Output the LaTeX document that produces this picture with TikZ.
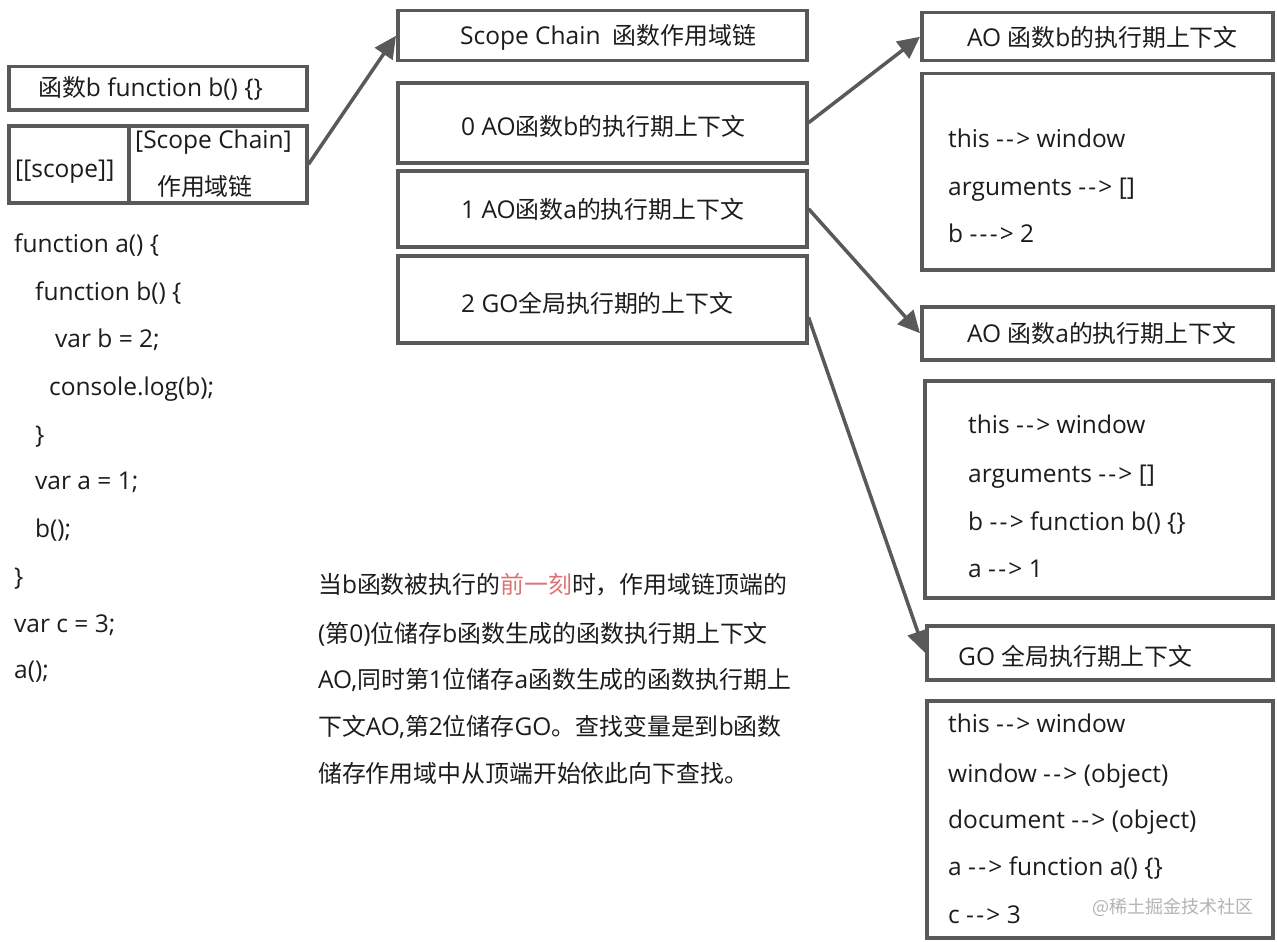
\documentclass[tikz,border=0pt]{standalone}
\usepackage{fontspec}
\setmainfont{Open Sans}
\newfontfamily\cjk[Scale=0.975]{Noto Sans CJK SC}
\usetikzlibrary{arrows.meta}
\definecolor{ln}{HTML}{595959}
\definecolor{tx}{HTML}{1C1C1C}
\definecolor{hl}{HTML}{DD7474}
\definecolor{wm}{HTML}{B4B4B4}
\newcommand\hy{-\kern2.2pt}
\begin{document}
\begin{tikzpicture}[x=1pt,y=-1pt,
 box/.style={draw=ln, line width=3.5pt, inner sep=0pt, anchor=north west},
 lbl/.style={font=\fontsize{24.5}{28}\selectfont, text=tx, inner sep=0pt, anchor=base west},
 arr/.style={draw=ln, line width=3.5pt, -{Triangle[length=22pt,width=21pt]}}
]
\useasboundingbox (0,0) rectangle (1277,942);
\fill[white] (0,0) rectangle (1277,942);

% left boxes
\node[box, minimum width=298pt, minimum height=43pt] (fb) at (7,65) {};
\node[box, minimum width=120pt, minimum height=77pt] (sl) at (7,124) {};
\node[box, minimum width=178pt, minimum height=77pt] (sr) at (127,124) {};
\node[lbl] (tfb) at (38,96) {{\cjk 函数}b function b() \{\}};
\node[lbl] (tsl) at (15,177) {[[scope]]};
\node[lbl] (tsr1) at (135,148) {[Scope Chain]};
\node[lbl] (tsr2) at (157,195) {{\cjk 作用域链}};

% scope chain column
\node[box, minimum width=409pt, minimum height=50pt] (sc) at (396,9) {};
\node[box, minimum width=409pt, minimum height=80pt] (c0) at (396,81) {};
\node[box, minimum width=409pt, minimum height=76pt] (c1) at (396,169) {};
\node[box, minimum width=409pt, minimum height=87pt] (c2) at (396,254) {};
\node[lbl] (tsc) at (460,45) {Scope Chain\hspace{12pt}{\cjk 函数作用域链}};
\node[lbl] (tc0) at (461,135) {0 AO{\cjk 函数}b{\cjk 的执行期上下文}};
\node[lbl] (tc1) at (461,218) {1 AO{\cjk 函数}a{\cjk 的执行期上下文}};
\node[lbl] (tc2) at (461,312) {2 GO{\cjk 全局执行期的上下文}};

% right column
\node[box, minimum width=351pt, minimum height=48pt] (hb) at (920,11) {};
\node[box, minimum width=351pt, minimum height=196pt] (bb) at (920,72) {};
\node[box, minimum width=351pt, minimum height=53pt] (ha) at (920,305) {};
\node[box, minimum width=348pt, minimum height=217pt] (ba) at (923,379) {};
\node[box, minimum width=346pt, minimum height=54pt] (hg) at (925,624) {};
\node[box, minimum width=346pt, minimum height=237pt] (bg) at (925,699) {};

\node[lbl] (thb) at (967,47) {AO {\cjk 函数}b{\cjk 的执行期上下文}};
\node[lbl] (tb1) at (948,147) {this \hy\hy> window};
\node[lbl] (tb2) at (948,195) {arguments \hy\hy> []};
\node[lbl] (tb3) at (948,242) {b \hy\hy\hy> 2};

\node[lbl] (tha) at (967,342) {AO {\cjk 函数}a{\cjk 的执行期上下文}};
\node[lbl] (ta1) at (968,433) {this \hy\hy> window};
\node[lbl] (ta2) at (968,482) {arguments \hy\hy> []};
\node[lbl] (ta3) at (968,530) {b \hy\hy> function b() \{\}};
\node[lbl] (ta4) at (968,577) {a \hy\hy> 1};

\node[lbl] (thg) at (958,665) {GO {\cjk 全局执行期上下文}};
\node[lbl] (tg1) at (948,732) {this \hy\hy> window};
\node[lbl] (tg2) at (948,782) {window \hy\hy> (object)};
\node[lbl] (tg3) at (948,828) {document \hy\hy> (object)};
\node[lbl] (tg4) at (948,875) {a \hy\hy> function a() \{\}};
\node[lbl] (tg5) at (948,923) {c \hy\hy> 3};
\node[lbl, font=\fontsize{18.5}{22}\selectfont, text=wm] (wm) at (1092,913) {{\cjk @稀土掘金技术社区}};

% code
\node[lbl] (k1) at (14,252) {function a() \{};
\node[lbl] (k2) at (35,300) {function b() \{};
\node[lbl] (k3) at (55,347) {var b = 2;};
\node[lbl] (k4) at (49,395) {console.log(b);};
\node[lbl] (k5) at (35,443) {\}};
\node[lbl] (k6) at (35,489) {var a = 1;};
\node[lbl] (k7) at (35,537) {b();};
\node[lbl] (k8) at (14,585) {\}};
\node[lbl] (k9) at (14,632) {var c = 3;};
\node[lbl] (k10) at (14,678) {a();};

% paragraph
\node[lbl] (p1) at (318,593) {{\cjk 当}b{\cjk 函数被执行的\textcolor{hl}{前一刻}时，作用域链顶端的}};
\node[lbl] (p2) at (318,642) {({\cjk 第}0){\cjk 位储存}b{\cjk 函数生成的函数执行期上下文}};
\node[lbl] (p3) at (318,688) {AO,{\cjk 同时第}1{\cjk 位储存}a{\cjk 函数生成的函数执行期上}};
\node[lbl] (p4) at (318,735) {{\cjk 下文}AO,{\cjk 第}2{\cjk 位储存}GO{\cjk 。查找变量是到}b{\cjk 函数}};
\node[lbl] (p5) at (318,782) {{\cjk 储存作用域中从顶端开始依此向下查找。}};

% arrows
\draw[arr] (sr.east) -- (sc.west);
\draw[arr] (c0.east) -- (hb.west);
\draw[arr] (c1.east) -- (ha.west);
\draw[arr] (c2.-5) -- (hg.west);
\end{tikzpicture}
\end{document}
